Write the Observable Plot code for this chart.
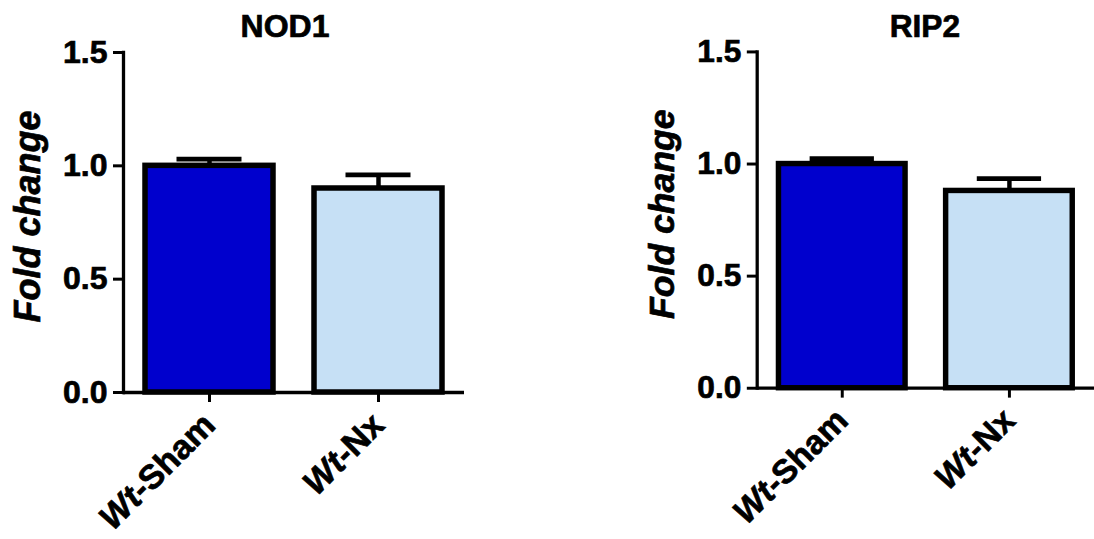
<!DOCTYPE html>
<html>
<head>
<meta charset="utf-8">
<script src="https://cdn.jsdelivr.net/npm/d3@7"></script>
<script src="https://cdn.jsdelivr.net/npm/@observablehq/plot@0.6"></script>
<style>
  html, body { margin: 0; padding: 0; background: #fff; }
  #wrap { position: relative; width: 1094px; height: 539px; overflow: hidden; background: #fff; }
  #wrap > div { position: absolute; top: 0; }
  #wrap svg text { stroke: #000; stroke-width: 0.7px; }
</style>
</head>
<body>
<div id="wrap"><div id="p1"></div><div id="p2"></div></div>
<script>
// ---- data ----
const groups = ["Wt-Sham", "Wt-Nx"];
const panelTitles = ["NOD1", "RIP2"];
const nod1Mean = [1.00, 0.90];
const nod1Err = [0.03, 0.06];
const rip2Mean = [1.00, 0.88];
const rip2Err = [0.024, 0.055];
const yTicks = [0, 0.5, 1.0, 1.5];
const yLabel = "Fold change";

// ---- styling / layout (not data) ----
const barColors = ["#0000cd", "#c6e0f5"];
const FONT = "'Liberation Sans', Arial, Helvetica, sans-serif";

function panel(title, means, errs, cfg) {
  const rows = groups.map((g, i) => ({group: g, mean: means[i], err: errs[i]}));
  const svg = Plot.plot({
    width: cfg.width,
    height: 539,
    marginLeft: cfg.marginLeft,
    marginRight: cfg.marginRight,
    marginTop: 52,
    marginBottom: 147,
    style: {fontFamily: FONT, fontSize: "32px", fontWeight: "bold", color: "#000", background: "#fff"},
    x: {domain: groups, paddingInner: 0.244, paddingOuter: 0.125, label: null},
    y: {domain: [0, 1.5], label: null},
    color: {domain: groups, range: barColors},
    marks: [
      Plot.barY(rows, {x: "group", y: "mean", fill: "group", stroke: "#000", strokeWidth: 5.5}),
      Plot.ruleX(rows, {x: "group", y1: "mean", y2: d => d.mean + d.err, stroke: "#000", strokeWidth: 4.5}),
      Plot.tickY(rows, {x: "group", y: d => d.mean + d.err, stroke: "#000", strokeWidth: 4.8, insetLeft: 31.5, insetRight: 31.5}),
      Plot.ruleY([0], {stroke: "#000", strokeWidth: 3.3}),
      Plot.frame({anchor: "left", stroke: "#000", strokeWidth: 3.3}),
      Plot.axisY({ticks: yTicks, tickFormat: d3.format(".1f"), tickSize: 10, tickPadding: 6, strokeWidth: 3, fontSize: 32, fontWeight: "bold", label: null}),
      Plot.axisX({tickSize: 10, tickPadding: 17, tickRotate: -45, strokeWidth: 3, fontSize: 34, fontWeight: "bold", label: null}),
      Plot.text([title], {text: d => d, frameAnchor: "top", lineAnchor: "bottom", dy: -15.5, dx: cfg.titleDx, fontSize: 32, fontWeight: "bold"}),
      Plot.text([yLabel], {text: d => d, frameAnchor: "left", textAnchor: "middle", rotate: -90, lineAnchor: "bottom", dx: -84, dy: -6, fontSize: 36, fontWeight: "bold", fontStyle: "italic"})
    ]
  });
  // italicise the genotype prefix "Wt" in the x tick labels
  d3.select(svg).selectAll('g[aria-label="x-axis tick label"] text').each(function() {
    const t = this.textContent;
    const m = t.match(/^(Wt)(.*)$/);
    if (m) {
      this.textContent = "";
      d3.select(this).append("tspan").attr("font-style", "italic").text(m[1]);
      d3.select(this).append("tspan").text(m[2]);
    }
  });
  return svg;
}

const p1 = document.getElementById("p1");
p1.style.left = "0px";
p1.appendChild(panel(panelTitles[0], nod1Mean, nod1Err, {width: 547, marginLeft: 123, marginRight: 83, titleDx: -9}));

const p2 = document.getElementById("p2");
p2.style.left = "547px";
p2.appendChild(panel(panelTitles[1], rip2Mean, rip2Err, {width: 553, marginLeft: 212, marginRight: 0, titleDx: -1}));
</script>
</body>
</html>
